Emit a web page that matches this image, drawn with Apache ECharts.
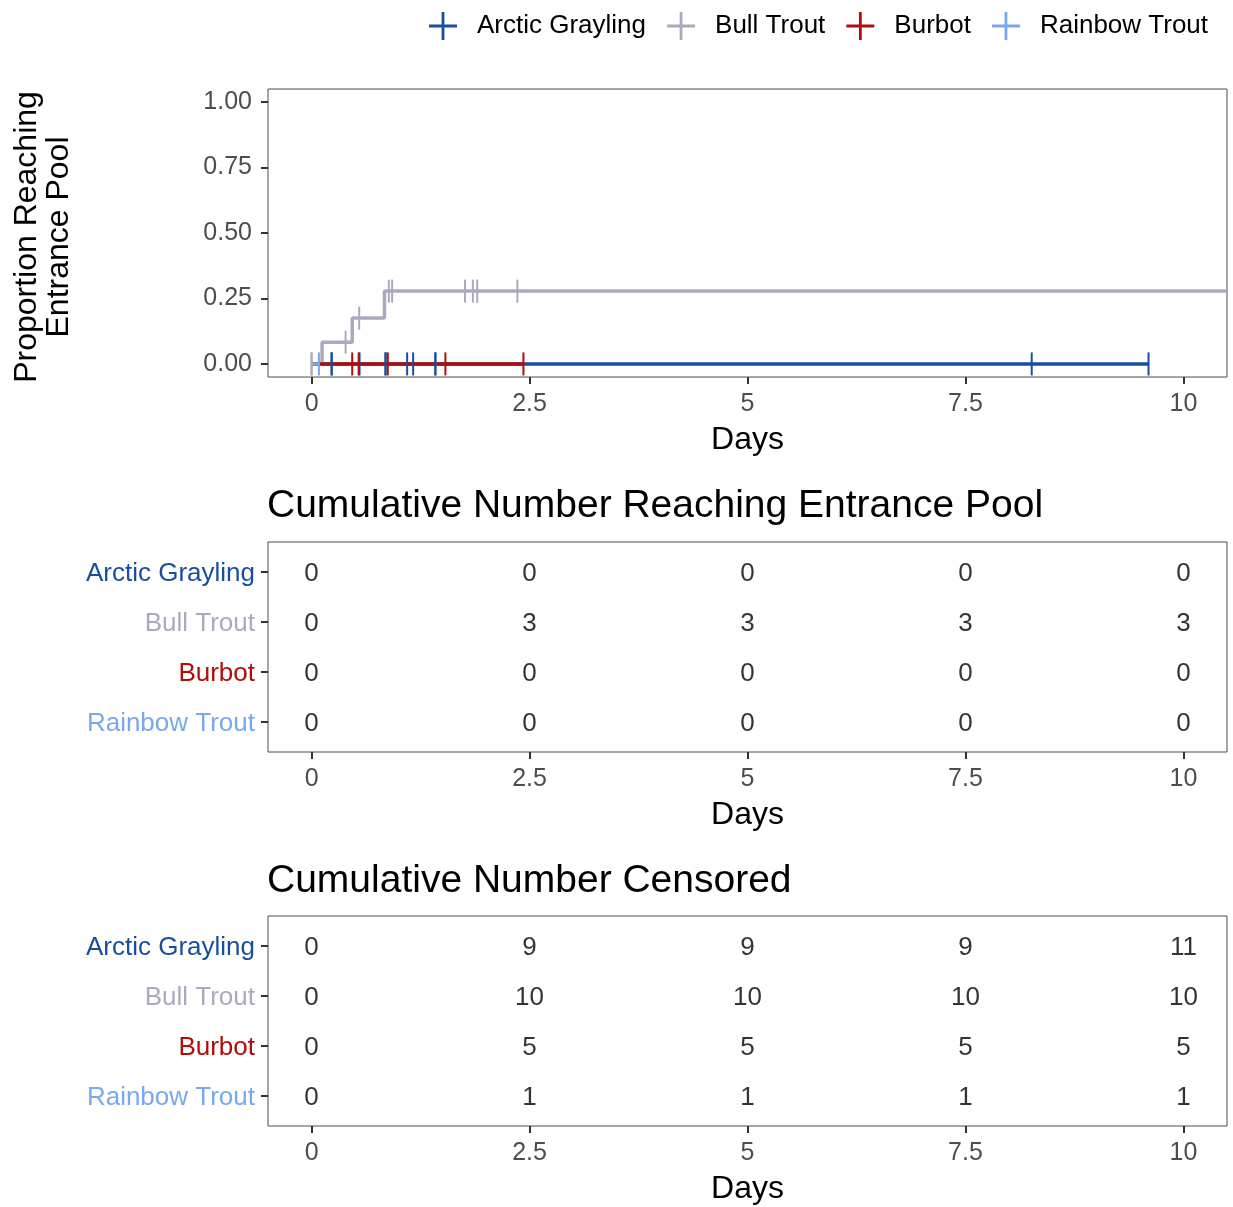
<!DOCTYPE html>
<html>
<head>
<meta charset="utf-8">
<script src="https://cdn.jsdelivr.net/npm/echarts@6/dist/echarts.min.js"></script>
<style>
html,body{margin:0;padding:0;background:#fff;}
#c{width:1233px;height:1207px;}
</style>
</head>
<body>
<div id="c"></div>
<script>
// ---------- DATA ----------
const species = ['Arctic Grayling', 'Bull Trout', 'Burbot', 'Rainbow Trout'];

// Kaplan-Meier step curves (time in days, proportion reaching)
const agCurveDays = [0, 9.60];
const agCurveProp = [0, 0];
const btCurveDays = [0, 0.12, 0.466, 0.836, 10.5];
const btCurveProp = [0, 0.083, 0.175, 0.278, 0.278];
const bbCurveDays = [0, 2.43];
const bbCurveProp = [0, 0];
const rtCurveDays = [0, 0.084];
const rtCurveProp = [0, 0];

// Censoring marks
const agCensorDays = [0.23, 0.23, 0.55, 0.848, 0.848, 1.096, 1.165, 1.42, 1.42, 8.26, 9.60];
const agCensorProp = [0, 0, 0, 0, 0, 0, 0, 0, 0, 0, 0];
const btCensorDays = [0, 0, 0.39, 0.546, 0.886, 0.924, 1.76, 1.85, 1.90, 2.36];
const btCensorProp = [0, 0, 0.083, 0.175, 0.278, 0.278, 0.278, 0.278, 0.278, 0.278];
const bbCensorDays = [0.466, 0.54, 0.874, 1.535, 2.43];
const bbCensorProp = [0, 0, 0, 0, 0];
const rtCensorDays = [0.084];
const rtCensorProp = [0];

// Tables
const tableDays = [0, 2.5, 5, 7.5, 10];
const reachArcticGrayling = [0, 0, 0, 0, 0];
const reachBullTrout = [0, 3, 3, 3, 3];
const reachBurbot = [0, 0, 0, 0, 0];
const reachRainbowTrout = [0, 0, 0, 0, 0];
const censArcticGrayling = [0, 9, 9, 9, 11];
const censBullTrout = [0, 10, 10, 10, 10];
const censBurbot = [0, 5, 5, 5, 5];
const censRainbowTrout = [0, 1, 1, 1, 1];

const xTicks = [0, 2.5, 5, 7.5, 10];
const yTicks = [0, 0.25, 0.5, 0.75, 1.0];

// ---------- STYLE ----------
const colors = ['#184E9E', '#AAAABF', '#B10C0C', '#78A9EE'];
const FONT = 'Liberation Sans, Arial, sans-serif';

const zip = (a, b) => a.map((v, i) => [v, b[i]]);

const curves = [[agCurveDays, agCurveProp], [btCurveDays, btCurveProp], [bbCurveDays, bbCurveProp], [rtCurveDays, rtCurveProp]];
const censors = [[agCensorDays, agCensorProp], [btCensorDays, btCensorProp], [bbCensorDays, bbCensorProp], [rtCensorDays, rtCensorProp]];
const reachRows = [reachArcticGrayling, reachBullTrout, reachBurbot, reachRainbowTrout];
const censRows = [censArcticGrayling, censBullTrout, censBurbot, censRainbowTrout];

const gridLeft = 268, gridWidth = 959;
const grids = [
  {left: gridLeft, top: 89, width: gridWidth, height: 288},
  {left: gridLeft, top: 542, width: gridWidth, height: 210},
  {left: gridLeft, top: 916, width: gridWidth, height: 210}
].map(g => Object.assign(g, {show: true, borderColor: '#4d4d4d', borderWidth: 1, backgroundColor: '#fff'}));

function xAxis(gi) {
  return {
    gridIndex: gi, type: 'value', min: -0.5, max: 10.5, position: 'bottom',
    name: 'Days', nameLocation: 'middle', nameGap: 47,
    nameTextStyle: {fontFamily: FONT, fontSize: 32, color: '#000'},
    axisLine: {show: false, onZero: false},
    axisTick: {show: true, customValues: xTicks, length: 7, lineStyle: {color: '#333', width: 2}},
    axisLabel: {customValues: xTicks, margin: 15, fontFamily: FONT, fontSize: 25, color: '#4d4d4d',
      formatter: v => String(v)},
    splitLine: {show: false}
  };
}

const richSpecies = {};
species.forEach((s, i) => { richSpecies['s' + i] = {color: colors[i], fontFamily: FONT, fontSize: 26, padding: [3, 0, 0, 0]}; });

function tableYAxis(gi) {
  return {
    gridIndex: gi, type: 'value', min: 0.4, max: 4.6, inverse: true, position: 'left',
    axisLine: {show: false, onZero: false},
    axisTick: {show: true, customValues: [1, 2, 3, 4], length: 7, lineStyle: {color: '#333', width: 2}},
    axisLabel: {customValues: [1, 2, 3, 4], margin: 13,
      formatter: v => '{s' + (v - 1) + '|' + species[v - 1] + '}', rich: richSpecies},
    splitLine: {show: false}
  };
}

const series = [];
// Curves
curves.forEach((c, i) => {
  series.push({
    name: species[i], type: 'line', xAxisIndex: 0, yAxisIndex: 0,
    data: zip(c[0], c[1]), step: 'end', showSymbol: false, symbol: 'none',
    color: colors[i], lineStyle: {color: colors[i], width: 3.5}, z: 2, animation: false
  });
});
// Censor marks
censors.forEach((c, i) => {
  series.push({
    name: species[i], type: 'scatter', xAxisIndex: 0, yAxisIndex: 0,
    data: zip(c[0], c[1]), symbol: 'rect', symbolSize: [2, 23],
    itemStyle: {color: colors[i], opacity: 1}, z: 3, animation: false
  });
});
// Tables
function tableSeries(rows, gi) {
  rows.forEach((row, r) => {
    series.push({
      type: 'scatter', xAxisIndex: gi, yAxisIndex: gi,
      data: tableDays.map((d, k) => [d, r + 1, row[k]]),
      symbolSize: 1, itemStyle: {color: 'rgba(0,0,0,0)'},
      label: {show: true, position: 'inside', offset: [0, 2], formatter: p => String(p.value[2]),
        fontFamily: FONT, fontSize: 26, color: '#000'},
      silent: true, animation: false
    });
  });
}
tableSeries(reachRows, 1);
tableSeries(censRows, 2);

const plusIcon = 'path://M0,13.5H30V16.5H0Z M13.5,0H16.5V30H13.5Z';

const option = {
  backgroundColor: '#fff',
  animation: false,
  title: [
    {text: 'Cumulative Number Reaching Entrance Pool', left: 262, top: 482,
      textStyle: {fontFamily: FONT, fontSize: 39, fontWeight: 'normal', color: '#000'}},
    {text: 'Cumulative Number Censored', left: 262, top: 857,
      textStyle: {fontFamily: FONT, fontSize: 39, fontWeight: 'normal', color: '#000'}}
  ],
  legend: {
    top: 7, left: 424, itemWidth: 30, itemHeight: 28, itemGap: 21,
    data: species.map(s => ({name: s, icon: plusIcon})),
    formatter: n => '{t|' + n + '}',
    textStyle: {fontFamily: FONT, fontSize: 26, color: '#000',
      rich: {t: {fontFamily: FONT, fontSize: 26, color: '#000', padding: [0, 0, 0, 14]}}}
  },
  grid: grids,
  xAxis: [xAxis(0), xAxis(1), xAxis(2)],
  yAxis: [
    {gridIndex: 0, type: 'value', min: -0.05, max: 1.05, position: 'left',
      axisLine: {show: false, onZero: false},
      axisTick: {show: true, customValues: yTicks, length: 7, lineStyle: {color: '#333', width: 2}},
      axisLabel: {customValues: yTicks, margin: 16, fontFamily: FONT, fontSize: 25, color: '#4d4d4d',
        padding: [4, 0, 0, 0], formatter: v => v.toFixed(2)},
      splitLine: {show: false}},
    tableYAxis(1), tableYAxis(2)
  ],
  graphic: [
    {type: 'text', x: 43, y: 237, rotation: Math.PI / 2,
      style: {text: 'Proportion Reaching\nEntrance Pool', fontFamily: FONT, fontSize: 32, fill: '#000',
        align: 'center', verticalAlign: 'middle', lineHeight: 32}}
  ],
  series: series
};

const chart = echarts.init(document.getElementById('c'), null, {renderer: 'canvas'});
chart.setOption(option);
</script>
</body>
</html>
